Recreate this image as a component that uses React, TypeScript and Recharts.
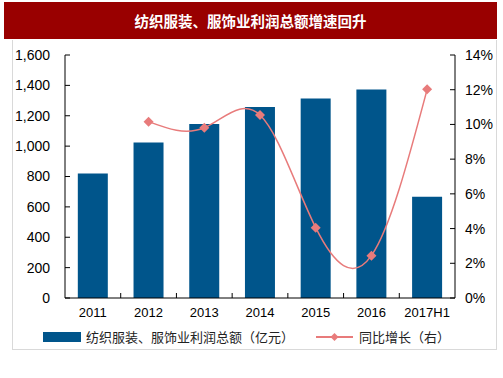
import React from 'react';
import {
  ComposedChart,
  Bar,
  Line,
  XAxis,
  YAxis,
  Legend } from
'recharts';

const years = ['2011', '2012', '2013', '2014', '2015', '2016', '2017H1'];
const profit = [820, 1024, 1145, 1257, 1314, 1373, 666];
const growth = [null, 10.16, 9.81, 10.54, 4.05, 2.44, 12.02];
const leftTicks = [0, 200, 400, 600, 800, 1000, 1200, 1400, 1600];
const rightTicks = [0, 2, 4, 6, 8, 10, 12, 14];

const data = years.map((y, i) => ({
  year: y,
  profit: profit[i],
  growth: growth[i]
}));

const BLUE = '#00558B';
const PINK = '#E87B7B';
const FONT = '"Liberation Sans", Arial, sans-serif';
const CJK = '"Noto Sans CJK SC", sans-serif';

const PLOT_W = 390;
const STEP = PLOT_W / years.length;

function XTick(props: any) {
  const { x, y, payload, index } = props;
  return (
    <g>
      <text x={x} y={y + 19} textAnchor="middle" fontSize={13} fontFamily={FONT} fill="#000">
        {payload.value}
      </text>
      {index < years.length - 1 &&
      <line x1={x + STEP / 2} x2={x + STEP / 2} y1={y} y2={y - 5} stroke="#000" />
      }
    </g>);

}

function Diamond(props: any) {
  const { cx, cy, value } = props;
  if (value == null || cx == null || cy == null) return null;
  const r = 5;
  return (
    <polygon
      points={`${cx},${cy - r} ${cx + r},${cy} ${cx},${cy + r} ${cx - r},${cy}`}
      fill={PINK} />);

}

function LegendContent() {
  return (
    <div style={{ position: 'relative', height: 20, fontFamily: CJK, fontSize: 13, color: '#222' }}>
      <div style={{ position: 'absolute', left: 43, top: 5, width: 38, height: 10, background: BLUE }} />
      <div style={{ position: 'absolute', left: 86, top: 0, lineHeight: '20px', whiteSpace: 'nowrap' }}>
        纺织服装、服饰业利润总额（亿元）
      </div>
      <svg style={{ position: 'absolute', left: 316, top: 0 }} width={38} height={20}>
        <line x1={0} x2={37} y1={10} y2={10} stroke={PINK} strokeWidth={2} />
        <polygon points="18.5,6 22.5,10 18.5,14 14.5,10" fill={PINK} />
      </svg>
      <div style={{ position: 'absolute', left: 359, top: 0, lineHeight: '20px', whiteSpace: 'nowrap' }}>
        同比增长（右）
      </div>
    </div>);

}

export default function App() {
  return (
    <div style={{ position: 'absolute', left: 0, top: 0, width: 503, height: 378, background: '#fff' }}>
      <div
        style={{
          position: 'absolute',
          left: 4,
          top: 2,
          width: 493,
          height: 37,
          background: '#990000',
          color: '#fff',
          fontFamily: CJK,
          fontWeight: 'bold',
          fontSize: 14.5,
          lineHeight: '37px',
          textAlign: 'center'
        }}>
        纺织服装、服饰业利润总额增速回升
      </div>
      <div
        style={{
          position: 'absolute',
          left: 12,
          top: 40,
          width: 483,
          height: 309,
          border: '1px solid #d9d9d9',
          borderTop: 'none'
        }} />

      <div style={{ position: 'absolute', left: 0, top: 0 }}>
        <ComposedChart
          width={503}
          height={378}
          data={data}
          barCategoryGap="23%"
          margin={{ top: 55, right: 0, left: 15, bottom: 30 }}>

          <XAxis
            dataKey="year"
            stroke="#000"
            tickLine={false}
            tickSize={0}
            tickMargin={0}
            height={30}
            tick={<XTick />}
            interval={0} />

          <YAxis
            yAxisId="left"
            width={50}
            domain={[0, 1600]}
            ticks={leftTicks}
            stroke="#000"
            tickSize={-5}
            tickMargin={20}
            tickFormatter={(v) => v.toLocaleString('en-US')}
            tick={{ fill: '#000', fontSize: 14, fontFamily: FONT }} />

          <YAxis
            yAxisId="right"
            orientation="right"
            width={48}
            domain={[0, 14]}
            ticks={rightTicks}
            stroke="#000"
            tickSize={-5}
            tickMargin={15}
            tickFormatter={(v) => `${v}%`}
            tick={{ fill: '#000', fontSize: 14, fontFamily: FONT, textAnchor: 'start' }} />

          <Legend
            content={<LegendContent />}
            wrapperStyle={{ position: 'absolute', left: 0, top: 327, width: 503 }} />

          <Bar
            yAxisId="left"
            dataKey="profit"
            fill={BLUE}
            isAnimationActive={false} />

          <Line
            yAxisId="right"
            dataKey="growth"
            type="natural"
            stroke={PINK}
            strokeWidth={1.5}
            dot={<Diamond />}
            activeDot={false}
            isAnimationActive={false} />

        </ComposedChart>
      </div>
    </div>);

}
